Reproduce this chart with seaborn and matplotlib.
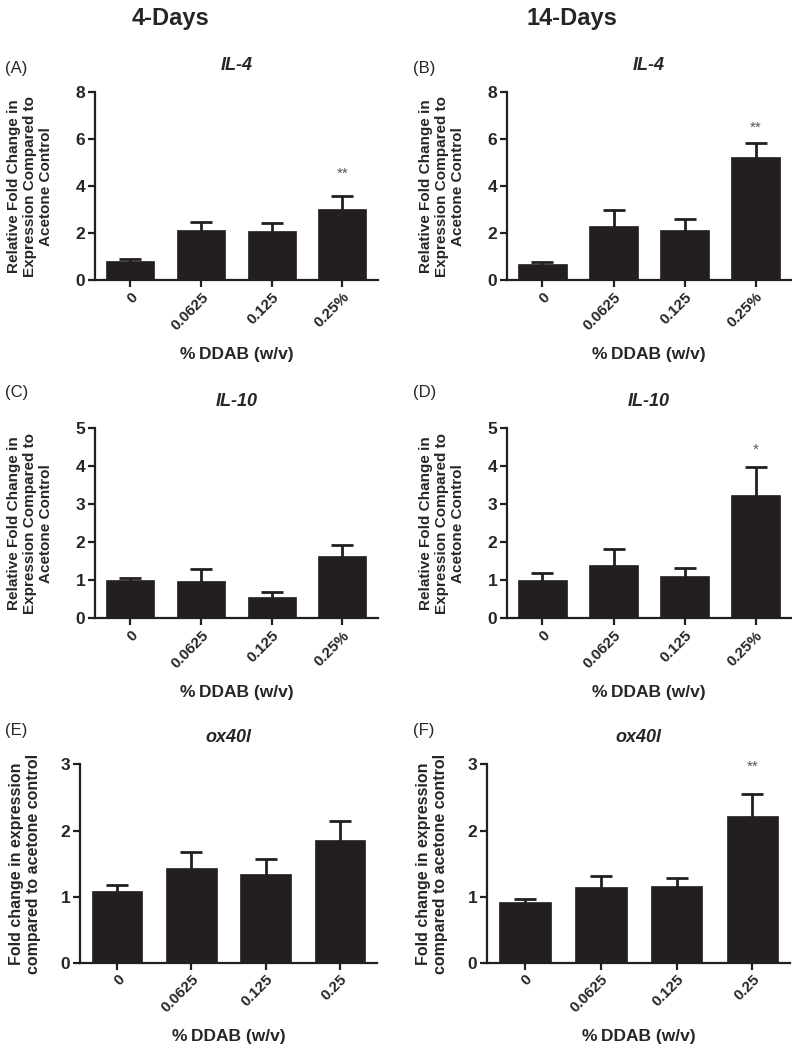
import numpy as np
import pandas as pd
import matplotlib
matplotlib.use("Agg")
import matplotlib.pyplot as plt
import seaborn as sns

# Dados
doses_pct = ["0", "0.0625", "0.125", "0.25%"]
doses_plain = ["0", "0.0625", "0.125", "0.25"]

il4_4d = [0.82, 2.15, 2.10, 3.03]
il4_4d_err = [0.09, 0.34, 0.32, 0.55]
il4_14d = [0.68, 2.31, 2.15, 5.25]
il4_14d_err = [0.12, 0.68, 0.47, 0.60]

il10_4d = [1.00, 0.98, 0.57, 1.63]
il10_4d_err = [0.06, 0.32, 0.12, 0.31]
il10_14d = [1.00, 1.40, 1.11, 3.24]
il10_14d_err = [0.20, 0.43, 0.21, 0.75]

ox40l_4d = [1.09, 1.43, 1.35, 1.86]
ox40l_4d_err = [0.08, 0.25, 0.22, 0.29]
ox40l_14d = [0.92, 1.15, 1.16, 2.22]
ox40l_14d_err = [0.05, 0.16, 0.12, 0.34]

stars_a = ["", "", "", "**"]
stars_b = ["", "", "", "**"]
stars_c = ["", "", "", ""]
stars_d = ["", "", "", "*"]
stars_e = ["", "", "", ""]
stars_f = ["", "", "", "**"]

sns.set_theme(style="ticks")
plt.rcParams['font.family'] = ['Liberation Sans', 'DejaVu Sans']

BAR_COLOR = "#231f20"
ylab_il = "Relative Fold Change in\nExpression Compared to\nAcetone Control"
ylab_ox = "Fold change in expression\ncompared to acetone control"
xlab = "%\u2009DDAB (w/v)"

fig = plt.figure(figsize=(7.92, 10.5), dpi=100)


def draw_panel(rect, labels, values, errs, stars, ymax, title, ylabel, star_gap,
               ylab_size, ylab_pad):
    ax = fig.add_axes(rect)
    df = pd.DataFrame({"dose": labels, "value": values})
    sns.barplot(data=df, x="dose", y="value", color=BAR_COLOR, width=0.68,
                errorbar=None, saturation=1, ax=ax, zorder=3,
                edgecolor=BAR_COLOR, linewidth=0.5)
    x = np.arange(len(values))
    # barra de erro simétrica atrás da barra: só a metade de cima aparece
    ax.errorbar(x, values, yerr=errs, fmt="none", ecolor=BAR_COLOR,
                elinewidth=2, capsize=8, capthick=2, zorder=2)
    for xi, v, e, s in zip(x, values, errs, stars):
        if s:
            ax.text(xi, v + e + star_gap, s, ha="center", va="center",
                    fontsize=11, color="#555555")
    ax.set_xlim(-0.5, 3.5)
    ax.set_ylim(0, ymax)
    ax.set_yticks(range(0, ymax + 1, 2 if ymax == 8 else 1))
    sns.despine(ax=ax)
    for sp in ["left", "bottom"]:
        ax.spines[sp].set_linewidth(1.6)
        ax.spines[sp].set_color("#231f20")
    ax.tick_params(axis="both", width=1.6, length=5, color="#231f20", pad=2)
    ax.tick_params(axis="y", labelsize=12.5)
    for lbl in ax.get_yticklabels():
        lbl.set_fontweight("bold")
    ax.set_xticks(x)
    ax.set_xticklabels(labels, rotation=45, ha="right", rotation_mode="anchor",
                       fontweight="bold", fontsize=11)
    ax.set_xlabel(xlab, fontweight="bold", fontsize=12.5, labelpad=10)
    ax.set_ylabel(ylabel, fontweight="bold", fontsize=ylab_size, labelpad=ylab_pad)
    ax.set_title(title, fontweight="bold", fontstyle="italic", fontsize=13, pad=16)
    return ax


draw_panel([0.120, 0.733, 0.357, 0.179], doses_pct, il4_4d, il4_4d_err, stars_a,
           8, "IL-4", ylab_il, 0.95, 11, 16)
draw_panel([0.640, 0.733, 0.359, 0.179], doses_pct, il4_14d, il4_14d_err, stars_b,
           8, "IL-4", ylab_il, 0.65, 11, 16)
draw_panel([0.120, 0.411, 0.357, 0.181], doses_pct, il10_4d, il10_4d_err, stars_c,
           5, "IL-10", ylab_il, 0.45, 11, 16)
draw_panel([0.640, 0.411, 0.359, 0.181], doses_pct, il10_14d, il10_14d_err, stars_d,
           5, "IL-10", ylab_il, 0.45, 11, 16)
draw_panel([0.101, 0.083, 0.375, 0.189], doses_plain, ox40l_4d, ox40l_4d_err, stars_e,
           3, "ox40l", ylab_ox, 0.4, 11.5, 14)
draw_panel([0.615, 0.083, 0.383, 0.189], doses_plain, ox40l_14d, ox40l_14d_err, stars_f,
           3, "ox40l", ylab_ox, 0.4, 11.5, 14)

# Rótulos dos painéis e títulos das colunas
for tag, xp, yp in [("(A)", 5, 68), ("(B)", 413, 68), ("(C)", 5, 393),
                    ("(D)", 413, 393), ("(E)", 5, 730), ("(F)", 413, 730)]:
    fig.text(xp / 792, 1 - yp / 1050, tag, fontsize=12, va="center", ha="left")

fig.text(170 / 792, 1 - 18 / 1050, "4-Days", fontsize=17, fontweight="bold",
         ha="center", va="center")
fig.text(572 / 792, 1 - 18 / 1050, "14-Days", fontsize=17, fontweight="bold",
         ha="center", va="center")

fig.savefig("out.png", dpi=100)
